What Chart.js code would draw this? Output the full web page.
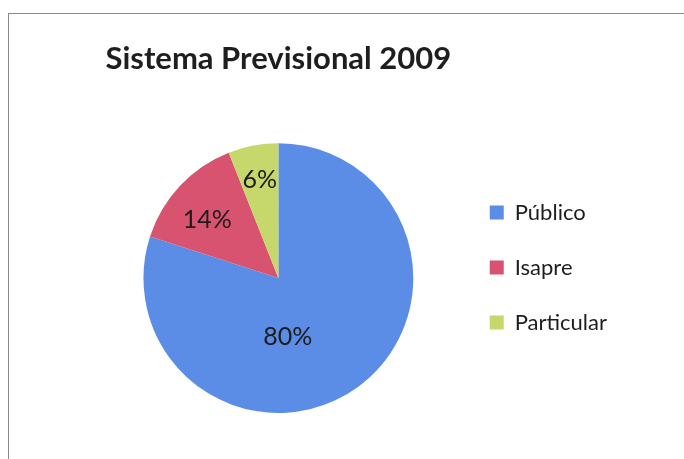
<!DOCTYPE html>
<html>
<head>
<meta charset="utf-8">
<script src="https://cdn.jsdelivr.net/npm/chart.js@4/dist/chart.umd.min.js"></script>
<style>
  html, body { margin: 0; padding: 0; background: #fff; }
  #wrap { position: relative; width: 684px; height: 459px; }
  #frame { position: absolute; left: 8px; top: 13px; right: -2px; bottom: -2px;
           border-left: 1px solid #8a8a8a; border-top: 1px solid #8a8a8a; pointer-events: none; }
  canvas { position: absolute; left: 0; top: 0; }
</style>
</head>
<body>
<div id="wrap">
  <canvas id="pieChart" width="684" height="459"></canvas>
  <div id="frame"></div>
</div>
<script>
"use strict";
const chartTitle = 'Sistema Previsional 2009';
const categories = ['Público', 'Isapre', 'Particular'];
const shares = [80, 14, 6];
const sliceColors = ['#5b8de6', '#d8536f', '#c6d86c'];

// where each percentage sits inside its slice (fraction of radius, angle nudge in degrees)
const labelPlacement = [{ frac: 0.44, shift: 27 }, { frac: 0.68, shift: -4 }, { frac: 0.74, shift: 0 }];

const sliceLabels = {
    id: 'sliceLabels',
    afterDatasetsDraw(chart) {
        const meta = chart.getDatasetMeta(0);
        const values = chart.data.datasets[0].data;
        const total = values.reduce((a, b) => a + b, 0);
        const ctx = chart.ctx;
        ctx.save();
        ctx.font = '25px Lato';
        ctx.fillStyle = '#1c1c1c';
        ctx.textAlign = 'center';
        ctx.textBaseline = 'middle';
        meta.data.forEach((arc, i) => {
            const p = arc.getProps(['x', 'y', 'startAngle', 'endAngle', 'outerRadius'], true);
            const place = labelPlacement[i];
            const mid = (p.startAngle + p.endAngle) / 2 + place.shift * Math.PI / 180;
            const r = p.outerRadius * place.frac;
            ctx.fillText(Math.round(values[i] / total * 100) + '%', p.x + Math.cos(mid) * r, p.y + Math.sin(mid) * r);
        });
        ctx.restore();
    }
};

document.addEventListener('DOMContentLoaded', () => {
    const ctx = document.getElementById('pieChart').getContext('2d');
    new Chart(ctx, {
        type: 'pie',
        data: {
            labels: categories,
            datasets: [{
                data: shares,
                backgroundColor: sliceColors,
                borderWidth: 0,
            }],
        },
        plugins: [sliceLabels],
        options: {
            responsive: false,
            animation: false,
            layout: { padding: { top: 20, bottom: 46, left: 100, right: 67 } },
            plugins: {
                tooltip: { enabled: false },
                title: {
                    display: true,
                    text: chartTitle,
                    fullSize: false,
                    color: '#1e1e1e',
                    font: { family: 'Lato', size: 31, weight: 'bold', lineHeight: 1.2 },
                    padding: { top: 20, bottom: 66 },
                },
                legend: {
                    position: 'right',
                    align: 'start',
                    fullSize: false,
                    title: { display: true, text: '', font: { size: 12, lineHeight: 1.2 }, padding: { top: 11, bottom: 0 } },
                    labels: {
                        color: '#1e1e1e',
                        font: { family: 'Lato', size: 22 },
                        boxWidth: 14,
                        boxHeight: 14,
                        padding: 33,
                    },
                },
            },
        },
    });
});
</script>
</body>
</html>
